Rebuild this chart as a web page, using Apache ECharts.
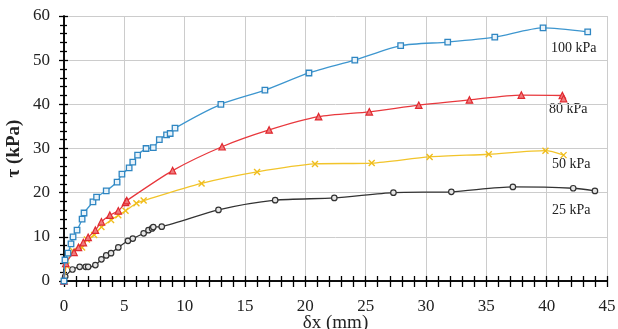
<!DOCTYPE html>
<html>
<head>
<meta charset="utf-8">
<script src="https://cdn.jsdelivr.net/npm/echarts@6/dist/echarts.min.js"></script>
<style>html,body{margin:0;padding:0;background:#fff;}#c{width:618px;height:329px;}</style>
</head>
<body>
<div id="c"></div>
<script>
// ---- data ----
const s100x = [0, 0.08, 0.33, 0.58, 0.75, 1.08, 1.5, 1.66, 2.4, 2.7, 3.5, 4.4, 4.8, 5.4, 5.7, 6.1, 6.8, 7.4, 7.9, 8.5, 8.8, 9.2, 13.0, 16.65, 20.3, 24.1, 27.9, 31.8, 35.7, 39.7, 43.4];
const s100y = [0, 4.75, 6.3, 8.4, 10.0, 11.5, 14.0, 15.4, 17.9, 19.0, 20.4, 22.4, 24.2, 25.6, 26.9, 28.5, 30.0, 30.2, 32.0, 33.1, 33.4, 34.6, 40.0, 43.2, 47.1, 50.0, 53.3, 54.1, 55.2, 57.3, 56.4];
const s80x = [0, 0.15, 0.83, 1.2, 1.6, 2.0, 2.6, 3.1, 3.8, 4.5, 5.1, 5.2, 9.0, 13.1, 17.0, 21.1, 25.3, 29.4, 33.6, 37.9, 41.3, 41.4];
const s80y = [0, 4.0, 6.5, 7.6, 8.7, 9.9, 11.5, 13.4, 14.9, 15.9, 17.8, 18.2, 25.0, 30.4, 34.2, 37.2, 38.3, 39.8, 41.0, 42.1, 42.0, 41.3];
const s50x = [0, 0.2, 0.75, 1.5, 1.9, 2.5, 3.1, 3.9, 4.5, 5.1, 6.0, 6.6, 11.4, 16.0, 20.8, 25.5, 30.3, 35.2, 39.9, 41.4];
const s50y = [0, 3.5, 6.8, 7.6, 9.4, 10.4, 12.2, 13.8, 14.9, 15.9, 17.6, 18.2, 22.1, 24.7, 26.5, 26.7, 28.1, 28.7, 29.5, 28.5];
const s25x = [0, 0.1, 0.7, 1.3, 1.8, 2.0, 2.6, 3.1, 3.5, 3.9, 4.5, 5.3, 5.7, 6.6, 7.0, 7.3, 7.4, 8.1, 12.8, 17.5, 22.4, 27.3, 32.1, 37.2, 42.2, 44.0];
const s25y = [0, 1.0, 2.6, 3.2, 3.2, 3.2, 3.6, 4.9, 5.8, 6.3, 7.6, 9.1, 9.6, 10.8, 11.5, 11.9, 12.2, 12.3, 16.1, 18.3, 18.8, 20.0, 20.2, 21.3, 21.0, 20.4];
const seriesLabels = ['100 kPa', '80 kPa', '50 kPa', '25 kPa'];
const xTicks = [0, 5, 10, 15, 20, 25, 30, 35, 40, 45];
const yTicks = [0, 10, 20, 30, 40, 50, 60];
const xName = 'δx (mm)';
const yName = 'τ (kPa)';

const zip = (a, b) => a.map((v, i) => [v, b[i]]);
const serif = '"Liberation Serif", "DejaVu Serif", serif';

const chart = echarts.init(document.getElementById('c'));
const baseX = {
  type: 'value', min: xTicks[0], max: xTicks[xTicks.length - 1], interval: 5,
  axisLine: { show: true, onZero: false, lineStyle: { color: '#000', width: 1.5 } },
};
const baseY = {
  type: 'value', min: yTicks[0], max: yTicks[yTicks.length - 1], interval: 10,
  axisLine: { show: true, onZero: false, lineStyle: { color: '#000', width: 1.5 } },
};
const option = {
  animation: false,
  grid: { left: 64, top: 16, width: 543, height: 265, containLabel: false, outerBoundsMode: 'none' },
  xAxis: [
    Object.assign({}, baseX, {
      position: 'bottom',
      name: xName, nameLocation: 'middle', nameGap: 33, nameMoveOverlap: false,
      nameTextStyle: { fontFamily: serif, fontSize: 19, color: '#222', verticalAlign: 'top' },
      axisTick: { show: true, inside: false, length: 6, lineStyle: { color: '#000', width: 1.3 } },
      minorTick: { show: true, splitNumber: 5, length: 6, lineStyle: { color: '#000', width: 1.3 } },
      axisLabel: { fontFamily: serif, fontSize: 17, color: '#222', margin: 17 },
      splitLine: { show: true, lineStyle: { color: '#cccccc', width: 1 } },
    }),
    Object.assign({}, baseX, {
      position: 'bottom', offset: 0,
      axisTick: { show: true, inside: true, length: 5, lineStyle: { color: '#000', width: 1.3 } },
      minorTick: { show: true, splitNumber: 5, length: 5, lineStyle: { color: '#000', width: 1.3 } },
      axisLabel: { show: false }, splitLine: { show: false },
    }),
  ],
  yAxis: [
    Object.assign({}, baseY, {
      position: 'left',
      name: yName, nameLocation: 'middle', nameGap: 40, nameRotate: 90, nameMoveOverlap: false,
      nameTextStyle: { fontFamily: serif, fontSize: 19, fontWeight: 'bold', color: '#222' },
      axisTick: { show: true, inside: false, length: 5, lineStyle: { color: '#000', width: 1.3 } },
      minorTick: { show: true, splitNumber: 5, length: 4, lineStyle: { color: '#000', width: 1.3 } },
      axisLabel: { fontFamily: serif, fontSize: 17, color: '#222', margin: 14 },
      splitLine: { show: true, lineStyle: { color: '#cccccc', width: 1 } },
    }),
    Object.assign({}, baseY, {
      position: 'left', offset: 0,
      axisTick: { show: true, inside: true, length: 4, lineStyle: { color: '#000', width: 1.3 } },
      minorTick: { show: true, splitNumber: 5, length: 3, lineStyle: { color: '#000', width: 1.3 } },
      axisLabel: { show: false }, splitLine: { show: false },
    }),
  ],
  series: [
    {
      name: seriesLabels[0], type: 'line', data: zip(s100x, s100y), smooth: 0.25,
      symbol: 'rect', symbolSize: 5.5,
      lineStyle: { color: '#3d96cf', width: 1.3 },
      itemStyle: { color: '#e9f3fa', borderColor: '#2f86c2', borderWidth: 1.3 },
      z: 5,
    },
    {
      name: seriesLabels[1], type: 'line', data: zip(s80x, s80y), smooth: 0.25,
      symbol: 'triangle', symbolSize: 6.5,
      lineStyle: { color: '#e8383d', width: 1.3 },
      itemStyle: { color: '#f07a7c', borderColor: '#e02a30', borderWidth: 1.2 },
      z: 4,
    },
    {
      name: seriesLabels[2], type: 'line', data: zip(s50x, s50y), smooth: 0.25,
      symbol: 'path://M0,0L10,10M10,0L0,10', symbolSize: 6,
      lineStyle: { color: '#f2c42a', width: 1.3 },
      itemStyle: { color: 'rgba(0,0,0,0)', borderColor: '#f0bd1c', borderWidth: 1.4 },
      z: 3,
    },
    {
      name: seriesLabels[3], type: 'line', data: zip(s25x, s25y), smooth: 0.25,
      symbol: 'circle', symbolSize: 5.5,
      lineStyle: { color: '#333333', width: 1.3 },
      itemStyle: { color: '#e6e6e6', borderColor: '#333333', borderWidth: 1.2 },
      z: 2,
    },
  ],
  graphic: [
    { type: 'text', left: 551, top: 41, style: { text: seriesLabels[0], font: '14px ' + serif, fill: '#222' } },
    { type: 'text', left: 549, top: 102, style: { text: seriesLabels[1], font: '14px ' + serif, fill: '#222' } },
    { type: 'text', left: 552, top: 157, style: { text: seriesLabels[2], font: '14px ' + serif, fill: '#222' } },
    { type: 'text', left: 552, top: 203, style: { text: seriesLabels[3], font: '14px ' + serif, fill: '#222' } },
  ],
};
chart.setOption(option);
</script>
</body>
</html>
